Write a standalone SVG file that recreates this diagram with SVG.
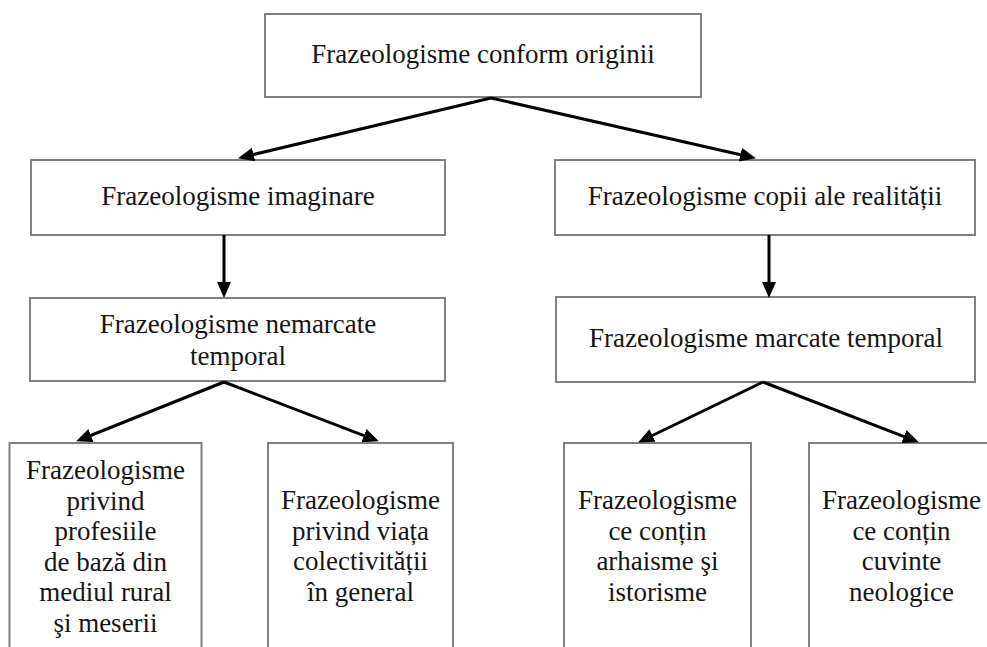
<svg xmlns="http://www.w3.org/2000/svg" width="987" height="647" viewBox="0 0 987 647">
<style>
  .box { fill: #ffffff; stroke: #808080; stroke-width: 2; }
  .t { font-family: 'Liberation Serif', 'DejaVu Serif', 'Times New Roman', serif; font-size: 27px; fill: #151515; text-anchor: middle; }
  .c { stroke: #000000; stroke-width: 3; fill: none; marker-end: url(#ah); }
</style>
<defs>
  <marker id="ah" markerUnits="userSpaceOnUse" markerWidth="17" markerHeight="15" refX="7" refY="7" orient="auto">
    <path d="M0,0 L16,7 L0,14 z" fill="#000000"/>
  </marker>
</defs>
<rect width="987" height="647" fill="#ffffff"/>

<g id="n-root">
  <rect class="box" x="265" y="14" width="436" height="83"/>
  <text class="t" x="483" y="63" font-family="Liberation Serif, DejaVu Serif, serif">Frazeologisme conform originii</text>
</g>
<g id="n-imaginare">
  <rect class="box" x="31" y="160" width="414" height="75"/>
  <text class="t" x="238" y="205">Frazeologisme imaginare</text>
</g>
<g id="n-copii">
  <rect class="box" x="555" y="160" width="420" height="75"/>
  <text class="t" x="765" y="205">Frazeologisme copii ale realității</text>
</g>
<g id="n-nemarcate">
  <rect class="box" x="30" y="298" width="415" height="83"/>
  <text class="t" x="238" y="333">Frazeologisme nemarcate</text>
  <text class="t" x="238" y="365">temporal</text>
</g>
<g id="n-marcate">
  <rect class="box" x="556" y="297" width="419" height="85"/>
  <text class="t" x="766" y="347">Frazeologisme marcate temporal</text>
</g>
<g id="n-profesii">
  <rect class="box" x="9.5" y="443" width="192" height="220"/>
  <text class="t" x="105.5" y="479">Frazeologisme</text>
  <text class="t" x="105.5" y="509.5">privind</text>
  <text class="t" x="105.5" y="540">profesiile</text>
  <text class="t" x="105.5" y="570.5">de bază din</text>
  <text class="t" x="105.5" y="601">mediul rural</text>
  <text class="t" x="105.5" y="631.5">şi meserii</text>
</g>
<g id="n-colectivitate">
  <rect class="box" x="268" y="443" width="185" height="220"/>
  <text class="t" x="360.5" y="509">Frazeologisme</text>
  <text class="t" x="360.5" y="539.5">privind viața</text>
  <text class="t" x="360.5" y="570">colectivității</text>
  <text class="t" x="360.5" y="600.5">în general</text>
</g>
<g id="n-arhaisme">
  <rect class="box" x="564" y="443" width="187" height="220"/>
  <text class="t" x="657.5" y="509">Frazeologisme</text>
  <text class="t" x="657.5" y="539.5">ce conțin</text>
  <text class="t" x="657.5" y="570">arhaisme şi</text>
  <text class="t" x="657.5" y="600.5">istorisme</text>
</g>
<g id="n-neologice">
  <rect class="box" x="809" y="443" width="186" height="220"/>
  <text class="t" x="901.5" y="509">Frazeologisme</text>
  <text class="t" x="901.5" y="539.5">ce conțin</text>
  <text class="t" x="901.5" y="570">cuvinte</text>
  <text class="t" x="901.5" y="600.5">neologice</text>
</g>

<g id="connectors">
  <path class="c" d="M491,98 L246.8,156.1"/>
  <path class="c" d="M491,98 L747.2,156.2"/>
  <path class="c" d="M224,235 L224,289"/>
  <path class="c" d="M769,235 L769,289"/>
  <path class="c" d="M224,382 L84.4,438"/>
  <path class="c" d="M224,382 L370.5,438.1"/>
  <path class="c" d="M763,382 L646.2,438.5"/>
  <path class="c" d="M763,382 L910.5,439.1"/>
</g>
</svg>
